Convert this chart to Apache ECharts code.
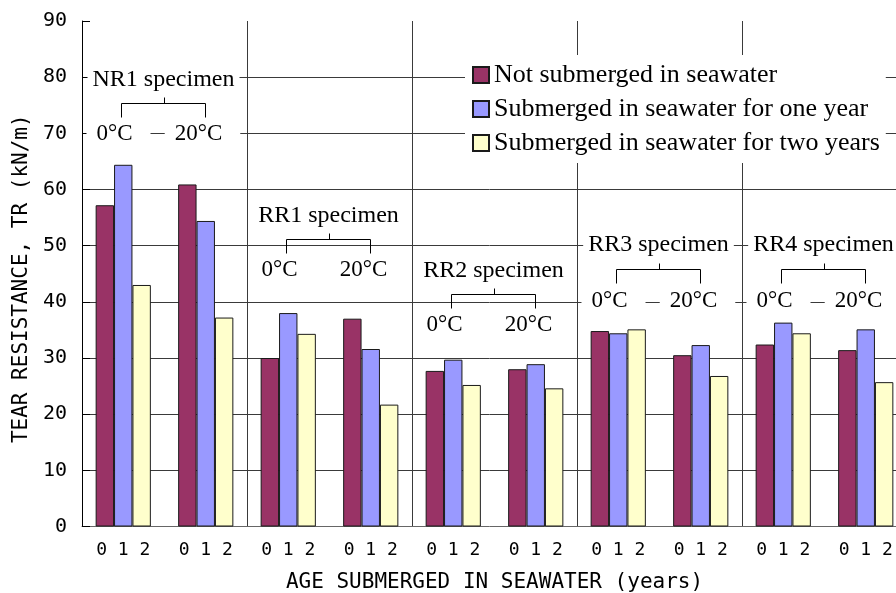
<!DOCTYPE html>
<html><head><meta charset="utf-8">
<script src="https://cdn.jsdelivr.net/npm/echarts@6/dist/echarts.min.js"></script>
<style>html,body{margin:0;padding:0;background:#fff}#c{width:896px;height:593px}</style>
</head><body><div id="c"></div>
<script>
// ---- data ----
const categories = ['NR1 0°C','NR1 20°C','RR1 0°C','RR1 20°C','RR2 0°C','RR2 20°C','RR3 0°C','RR3 20°C','RR4 0°C','RR4 20°C'];
const tickLabels = ['0 1 2','0 1 2','0 1 2','0 1 2','0 1 2','0 1 2','0 1 2','0 1 2','0 1 2','0 1 2'];
const seriesNames = ['Not submerged in seawater','Submerged in seawater for one year','Submerged in seawater for two years'];
const notSubmerged = [57.2, 60.9, 30.0, 37.0, 27.7, 28.0, 34.8, 30.5, 32.4, 31.4];
const oneYear      = [64.4, 54.4, 38.0, 31.6, 29.7, 28.9, 34.4, 32.3, 36.3, 35.1];
const twoYears     = [43.0, 37.2, 34.3, 21.7, 25.2, 24.6, 35.1, 26.8, 34.4, 25.7];
const specimens = ['NR1 specimen','RR1 specimen','RR2 specimen','RR3 specimen','RR4 specimen'];
const tempLabels = ['0°C','20°C'];
const specimenTitleValues = [79.6, 55.4, 45.6, 50.2, 50.2];
const specimenLabelValues = [69.9, 45.6, 35.9, 40.2, 40.2];
const yAxisName = 'TEAR RESISTANCE, TR (kN/m)';
const xAxisName = 'AGE SUBMERGED IN SEAWATER (years)';

// ---- chart ----
const colors = ['#993366', '#9999FF', '#FFFFCC'];
const mono = '"DejaVu Sans Mono", monospace';
const serif = '"Liberation Serif", "Times New Roman", serif';
const lineCol = '#3a3a3a';

const chart = echarts.init(document.getElementById('c'), null, {renderer: 'canvas'});
const seriesData = [notSubmerged, oneYear, twoYears];

chart.setOption({
  animation: false,
  backgroundColor: '#fff',
  grid: {left: 82, top: 21, width: 825, height: 505.5, containLabel: false, outerBoundsMode: 'none'},
  legend: {
    data: seriesNames, orient: 'vertical', left: 465, top: 55,
    backgroundColor: '#fff', padding: [3, 6, 3, 7],
    itemWidth: 16, itemHeight: 16, itemGap: 0, icon: 'rect',
    textStyle: {fontFamily: serif, fontSize: 26, color: '#000', lineHeight: 34}
  },
  xAxis: {
    type: 'category', data: categories, boundaryGap: true,
    axisLine: {show: true, lineStyle: {color: '#666', width: 1}},
    axisTick: {show: false},
    axisLabel: {
      formatter: (v, i) => tickLabels[i], interval: 0, margin: 15,
      fontFamily: mono, fontSize: 18, color: '#000'
    },
    splitLine: {show: true, interval: (i) => i % 2 === 0, showMinLine: false,
      lineStyle: {color: lineCol, width: 1}},
    name: xAxisName, nameLocation: 'middle', nameGap: 46,
    nameTextStyle: {fontFamily: mono, fontSize: 21, color: '#000'}
  },
  yAxis: {
    type: 'value', min: 0, max: 90, interval: 10,
    axisLine: {show: true, lineStyle: {color: '#000', width: 1}},
    axisTick: {show: true, inside: true, length: 8, lineStyle: {color: '#000'}},
    axisLabel: {margin: 15, fontFamily: mono, fontSize: 20, color: '#000'},
    splitLine: {show: true, showMaxLine: false, showMinLine: false, lineStyle: {color: lineCol, width: 1}},
    name: yAxisName, nameLocation: 'middle', nameGap: 46, nameRotate: 90,
    nameTextStyle: {fontFamily: mono, fontSize: 21, color: '#000', padding: [0, 10, 0, 0]}
  },
  series: seriesData.map((d, k) => ({
    type: 'bar', name: seriesNames[k], data: d,
    barWidth: 18.4, barGap: '0%',
    itemStyle: {color: colors[k], borderColor: '#1a1a1a', borderWidth: 1}
  }))
});

// ---- annotations placed through the axis scales ----
const els = [];
const px = (cat, val) => chart.convertToPixel({seriesIndex: 0}, [cat, val]);
specimens.forEach((name, k) => {
  const a = px(2 * k, specimenTitleValues[k]);
  const b = px(2 * k + 1, specimenLabelValues[k]);
  const x0 = Math.round(a[0]) - 1.5, x1 = Math.round(b[0]) - 0.5;
  const yT = a[1], yL = b[1];
  const mid = Math.round((x0 + x1) / 2) + 0.5;
  const yB = Math.round(yT + 24) + 0.5;
  els.push({type: 'text', z: 50, x: (x0 + x1) / 2, y: yT,
    style: {text: name, font: '24px ' + serif, fill: '#000', align: 'center', verticalAlign: 'middle',
      backgroundColor: '#fff', padding: [1, 5, 1, 5]}});
  els.push({type: 'polyline', z: 50, shape: {points: [[x0, yB + 14], [x0, yB], [x1, yB], [x1, yB + 14]]},
    style: {stroke: '#000', lineWidth: 1, fill: null}});
  els.push({type: 'line', z: 50, shape: {x1: mid, y1: yB, x2: mid, y2: yB - 6},
    style: {stroke: '#000', lineWidth: 1}});
  [x0, x1].forEach((xx, j) => {
    els.push({type: 'text', z: 50, x: xx - 3, y: yL,
      style: {text: tempLabels[j], font: '23px ' + serif, fill: '#000', align: 'center', verticalAlign: 'middle',
        backgroundColor: '#fff', padding: [1, 18, 1, 10]}});
  });
});
chart.setOption({graphic: els});
</script>
</body></html>
